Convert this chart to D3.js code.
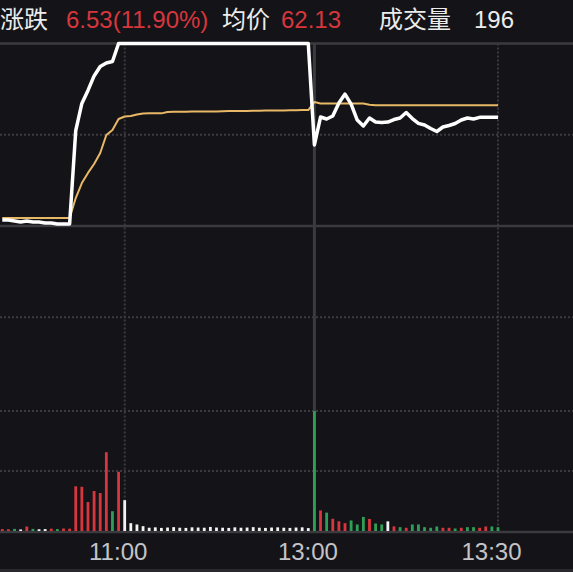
<!DOCTYPE html>
<html>
<head>
<meta charset="utf-8">
<script src="https://cdn.jsdelivr.net/npm/d3@7"></script>
<style>
html, body { margin: 0; padding: 0; background: #141418; }
svg { display: block; }
.hd { font-family: "Liberation Sans", Arial, "Noto Sans CJK SC", sans-serif; font-size: 24px; }
.cn { font-family: "Noto Sans CJK SC", sans-serif; font-size: 24px; }
.tick { font-family: "Liberation Sans", Arial, sans-serif; font-size: 24px; fill: #c4c4c8; }
</style>
</head>
<body>
<svg width="573" height="572"></svg>
<script>
"use strict"

// header
let prevClose = 54.87,
    limitUp = 65.84,
    limitDown = 43.90
let headerLabels = ["涨跌", "均价", "成交量"]
let headerValues = ["6.53(11.90%)", "62.13", "196"]

// time axis (minute index from first bar)
let tickLabels = ["11:00", "13:00", "13:30"]
let tickIndex = [20, 51, 81]

// one value per minute
let prices = [
  55.23, 55.23, 55.17, 55.11, 55.17, 55.11, 55.11, 55.05, 55.05, 54.99, 54.99, 54.99,
  60.60, 62.24, 63.02, 63.89, 64.46, 64.67, 64.76,
  65.84, 65.84, 65.84, 65.84, 65.84, 65.84, 65.84, 65.84, 65.84, 65.84, 65.84, 65.84,
  65.84, 65.84, 65.84, 65.84, 65.84, 65.84, 65.84, 65.84, 65.84, 65.84, 65.84, 65.84,
  65.84, 65.84, 65.84, 65.84, 65.84, 65.84, 65.84, 65.84,
  59.74, 61.42, 61.30, 61.48, 62.26, 62.80, 62.20, 61.24, 60.88, 61.36, 61.12, 61.09,
  61.12, 61.27, 61.36, 61.69, 61.33, 61.04, 60.94, 60.73, 60.55, 60.82, 60.91, 61.03,
  61.24, 61.36, 61.30, 61.40, 61.40, 61.40, 61.40
]
let avgPrices = [
  55.35, 55.35, 55.35, 55.35, 55.35, 55.35, 55.35, 55.35, 55.35, 55.35, 55.35, 55.35,
  56.55, 57.45, 58.06, 58.60, 59.26, 60.34, 60.64, 61.30, 61.45, 61.48, 61.57, 61.63,
  61.64, 61.64, 61.64, 61.72, 61.74, 61.74, 61.74, 61.75, 61.75, 61.75, 61.75, 61.76,
  61.77, 61.78, 61.78, 61.79, 61.79, 61.80, 61.80, 61.81, 61.81, 61.82, 61.82, 61.83,
  61.83, 61.84, 61.84,
  62.32, 62.23, 62.23, 62.23, 62.23, 62.23, 62.23, 62.23, 62.23, 62.16,
  62.13, 62.13, 62.13, 62.13, 62.13, 62.13, 62.13, 62.13, 62.13, 62.13, 62.13, 62.13,
  62.13, 62.13, 62.13, 62.13, 62.13, 62.13, 62.13, 62.13, 62.13
]
let volumes = [
  100, 90, 110, 80, 230, 110, 90, 100, 120, 100, 130, 120,
  2314, 2288, 1498, 2070, 1966, 4082, 1024, 3068, 1596, 406, 338, 250,
  170, 190, 160, 180, 200, 170, 160, 190, 180, 170, 210, 180, 170, 160,
  190, 170, 180, 200, 170, 160, 180, 190, 170, 160, 180, 190, 150,
  6214, 1066, 952, 634, 504, 406, 546, 338, 728, 624, 390, 338, 499, 239, 198, 166,
  338, 338, 198, 166, 234, 166, 166, 130, 166, 198, 198, 166, 234, 234, 196
]
// 1 up, -1 down, 0 flat
let volDir = [
  1, 1, -1, 0, 1, -1, 0, 0, 1, -1, 1, 1,
  1, 1, 1, 1, 1, 1, -1, 1, 0,
  0, 0, 0, 0, 0, 0, 0, 0, 0, 0, 0, 0, 0, 0, 0, 0, 0, 0, 0, 0, 0, 0, 0, 0, 0, 0, 0, 0, 0, 0,
  -1, 1, -1, 1, 1, 1, -1, -1, -1, 1, -1, -1, 0, 1, -1, 1, -1, -1, -1, -1, -1, 1, 1, -1,
  1, -1, -1, 1, 1, -1, -1
]

let svg = d3.select("svg"),
    width = +svg.attr("width"),
    height = +svg.attr("height")

let red = "#d7363d", green = "#2f9f58", grid = "#3a3a3f"

let x = d3.scaleLinear().domain([0, 81]).range([2.3, 498])
let y = d3.scaleLinear().domain([limitDown, limitUp]).range([408.5, 43.5])
let yVol = d3.scaleLinear().domain([0, d3.max(volumes)]).range([531, 411])

svg.append("rect").attr("width", width).attr("height", height).attr("fill", "#141418")

// horizontal grid
let half = (limitUp - prevClose) / 2
let hLines = [
  {y: y(limitUp), solid: true},
  {y: y(prevClose + half), solid: false},
  {y: y(prevClose), solid: true},
  {y: y(prevClose - half), solid: false},
  {y: yVol(d3.max(volumes)), solid: false},
  {y: yVol(d3.max(volumes) / 2), solid: false},
  {y: yVol(0) + 1, solid: true}
]
svg.selectAll(".hgrid")
  .data(hLines)
  .enter().append("line")
    .attr("class", "hgrid")
    .attr("x1", 0).attr("x2", width)
    .attr("y1", d => d.y).attr("y2", d => d.y)
    .attr("stroke", grid)
    .attr("stroke-width", d => d.solid ? 2.5 : 2)
    .attr("stroke-dasharray", d => d.solid ? null : "2,2")

// vertical grid
svg.selectAll(".vgrid")
  .data(tickIndex)
  .enter().append("line")
    .attr("class", "vgrid")
    .attr("x1", d => x(d)).attr("x2", d => x(d))
    .attr("y1", y(limitUp)).attr("y2", yVol(0) + 1)
    .attr("stroke", grid)
    .attr("stroke-width", (d, i) => tickLabels[i] == "13:00" ? 3 : 2)
    .attr("stroke-dasharray", (d, i) => tickLabels[i] == "13:00" ? null : "2,2")

svg.append("rect")
  .attr("x", 0).attr("y", 569).attr("width", width).attr("height", 3)
  .attr("fill", "#2a2a2e")

// volume bars
svg.selectAll(".bar")
  .data(volumes)
  .enter().append("rect")
    .attr("class", "bar")
    .attr("x", (d, i) => x(i) - 1.4)
    .attr("width", 2.8)
    .attr("y", d => yVol(d))
    .attr("height", d => yVol(0) - yVol(d))
    .attr("fill", (d, i) => volDir[i] > 0 ? red : volDir[i] < 0 ? green : "#f2f2f2")

// average line
let line = d3.line().x((d, i) => x(i)).y(d => y(d))

svg.append("path")
  .datum(avgPrices)
  .attr("d", line)
  .attr("fill", "none")
  .attr("stroke", "#e8b866")
  .attr("stroke-width", 2)
  .attr("stroke-linejoin", "round")

// price line
svg.append("path")
  .datum(prices)
  .attr("d", line)
  .attr("fill", "none")
  .attr("stroke", "#ffffff")
  .attr("stroke-width", 3.5)
  .attr("stroke-linejoin", "round")

// time labels
svg.selectAll(".tick")
  .data(tickLabels)
  .enter().append("text")
    .attr("class", "tick")
    .attr("x", (d, i) => x(tickIndex[i]) - 6.5)
    .attr("y", 560)
    .attr("text-anchor", "middle")
    .text(d => d)

// header
let labelX = [0, 222, 379],
    valueX = [66, 281, 474],
    valueColor = [red, red, "#ececec"]
let head = svg.append("g")
head.selectAll(".lbl")
  .data(headerLabels)
  .enter().append("text")
    .attr("class", "cn")
    .attr("x", (d, i) => labelX[i])
    .attr("y", 28)
    .attr("fill", "#ececec")
    .text(d => d)
head.selectAll(".val")
  .data(headerValues)
  .enter().append("text")
    .attr("class", "hd")
    .attr("x", (d, i) => valueX[i])
    .attr("y", 28)
    .attr("fill", (d, i) => valueColor[i])
    .text(d => d)
</script>
</body>
</html>
